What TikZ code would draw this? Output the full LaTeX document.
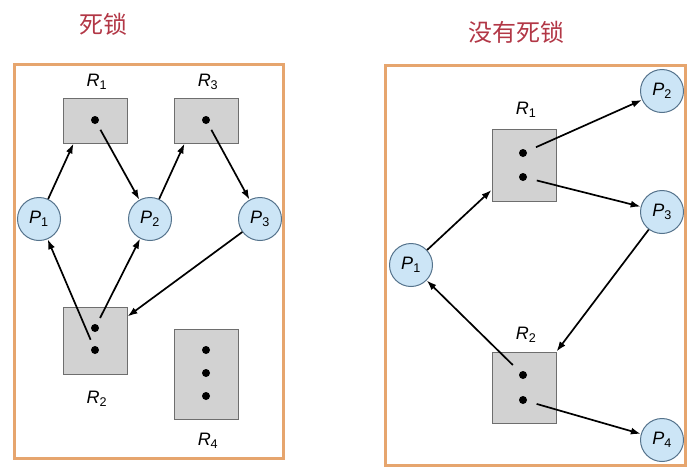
\documentclass[tikz,border=0pt]{standalone}
\usepackage{fontspec}
\setmainfont{Liberation Sans}
\newfontfamily\cjk{Noto Sans CJK SC}
\usetikzlibrary{arrows.meta}
\definecolor{frameor}{RGB}{230,165,110}
\definecolor{boxfill}{RGB}{210,210,210}
\definecolor{boxline}{RGB}{110,110,110}
\definecolor{procfill}{RGB}{204,229,246}
\definecolor{procline}{RGB}{85,115,140}
\definecolor{titlered}{RGB}{178,55,70}
\begin{document}
\begin{tikzpicture}[x=1pt,y=-1pt,
  frame/.style={draw=frameor,line width=3pt},
  res/.style={draw=boxline,fill=boxfill,line width=1pt,inner sep=0pt,minimum width=64pt},
  proc/.style={circle,draw=procline,fill=procfill,line width=1pt,minimum size=43pt,inner sep=0pt,font=\fontsize{18}{18}\selectfont\itshape},
  dotn/.style={circle,fill=black,inner sep=0pt,minimum size=8pt},
  lbl/.style={inner sep=0pt,font=\fontsize{18}{18}\selectfont\itshape},
  arr/.style={-{Latex[length=10pt,width=7pt]},line width=1.7pt},
  ttl/.style={inner sep=0pt,font=\fontsize{24}{24}\selectfont\cjk,text=titlered}]
\useasboundingbox (0,0) rectangle (698,474);
% titles
\node[ttl] (t1) at (103,24) {死锁};
\node[ttl] (t2) at (516,32) {没有死锁};
% frames
\draw[frame] (14,64) rectangle (283,458);
\draw[frame] (385,65) rectangle (685,465);
% ---------- left: deadlock ----------
\node[res,minimum height=45pt] (aR1) at (95,120.5) {};
\node[res,minimum height=45pt] (aR3) at (206,120.5) {};
\node[res,minimum height=67pt] (aR2) at (95,340.5) {};
\node[res,minimum height=90pt] (aR4) at (206,374) {};
\node[lbl] (laR1) at (97,82) {R\textsubscript{\upshape 1}};
\node[lbl] (laR3) at (208,82) {R\textsubscript{\upshape 3}};
\node[lbl] (laR2) at (97,399) {R\textsubscript{\upshape 2}};
\node[lbl] (laR4) at (208,441) {R\textsubscript{\upshape 4}};
\node[dotn] (a1) at (95,120) {};
\node[dotn] (a3) at (206,120) {};
\node[dotn] (a2u) at (95,328) {};
\node[dotn] (a2l) at (95,350) {};
\node[dotn] (a4a) at (206,350) {};
\node[dotn] (a4b) at (206,373) {};
\node[dotn] (a4c) at (206,396) {};
\node[proc] (aP1) at (39,219) {P\textsubscript{\upshape 1}};
\node[proc] (aP2) at (150,219) {P\textsubscript{\upshape 2}};
\node[proc] (aP3) at (260,219) {P\textsubscript{\upshape 3}};
\coordinate (aR1in) at ([xshift=11pt]aR1.south west);
\coordinate (aR3in) at ([xshift=11pt]aR3.south west);
\coordinate (aR2in) at ([yshift=-10pt]aR2.north east);
\draw[arr] (aP1) -- (aR1in);
\draw[arr,shorten <=7pt] (a1) -- (aP2);
\draw[arr] (aP2) -- (aR3in);
\draw[arr,shorten <=7pt] (a3) -- (aP3);
\draw[arr,shorten <=7pt] (a2l) -- (aP1);
\draw[arr,shorten <=7pt] (a2u) -- (aP2);
\draw[arr] (aP3) -- (aR2in);
% ---------- right: no deadlock ----------
\node[res,minimum height=72pt] (bR1) at (524,165.5) {};
\node[res,minimum height=71pt] (bR2) at (524,387.5) {};
\node[lbl] (lbR1) at (526,110) {R\textsubscript{\upshape 1}};
\node[lbl] (lbR2) at (526,335) {R\textsubscript{\upshape 2}};
\node[dotn] (b1u) at (523,153) {};
\node[dotn] (b1l) at (523,177) {};
\node[dotn] (b2u) at (523,375) {};
\node[dotn] (b2l) at (523,400) {};
\node[proc] (bP1) at (411,265) {P\textsubscript{\upshape 1}};
\node[proc] (bP2) at (662,91) {P\textsubscript{\upshape 2}};
\node[proc] (bP3) at (662,212) {P\textsubscript{\upshape 3}};
\node[proc] (bP4) at (662,440) {P\textsubscript{\upshape 4}};
\coordinate (bR1in) at ([yshift=12pt]bR1.south west);
\draw[arr] (bP1) -- (bR1in);
\draw[arr,shorten <=10pt] (b1u) -- (bP2);
\draw[arr,shorten <=10pt] (b1l) -- (bP3);
\draw[arr] (bP3) -- (bR2.north east);
\draw[arr,shorten <=10pt] (b2u) -- (bP1);
\draw[arr,shorten <=10pt] (b2l) -- (bP4);
\end{tikzpicture}
\end{document}
